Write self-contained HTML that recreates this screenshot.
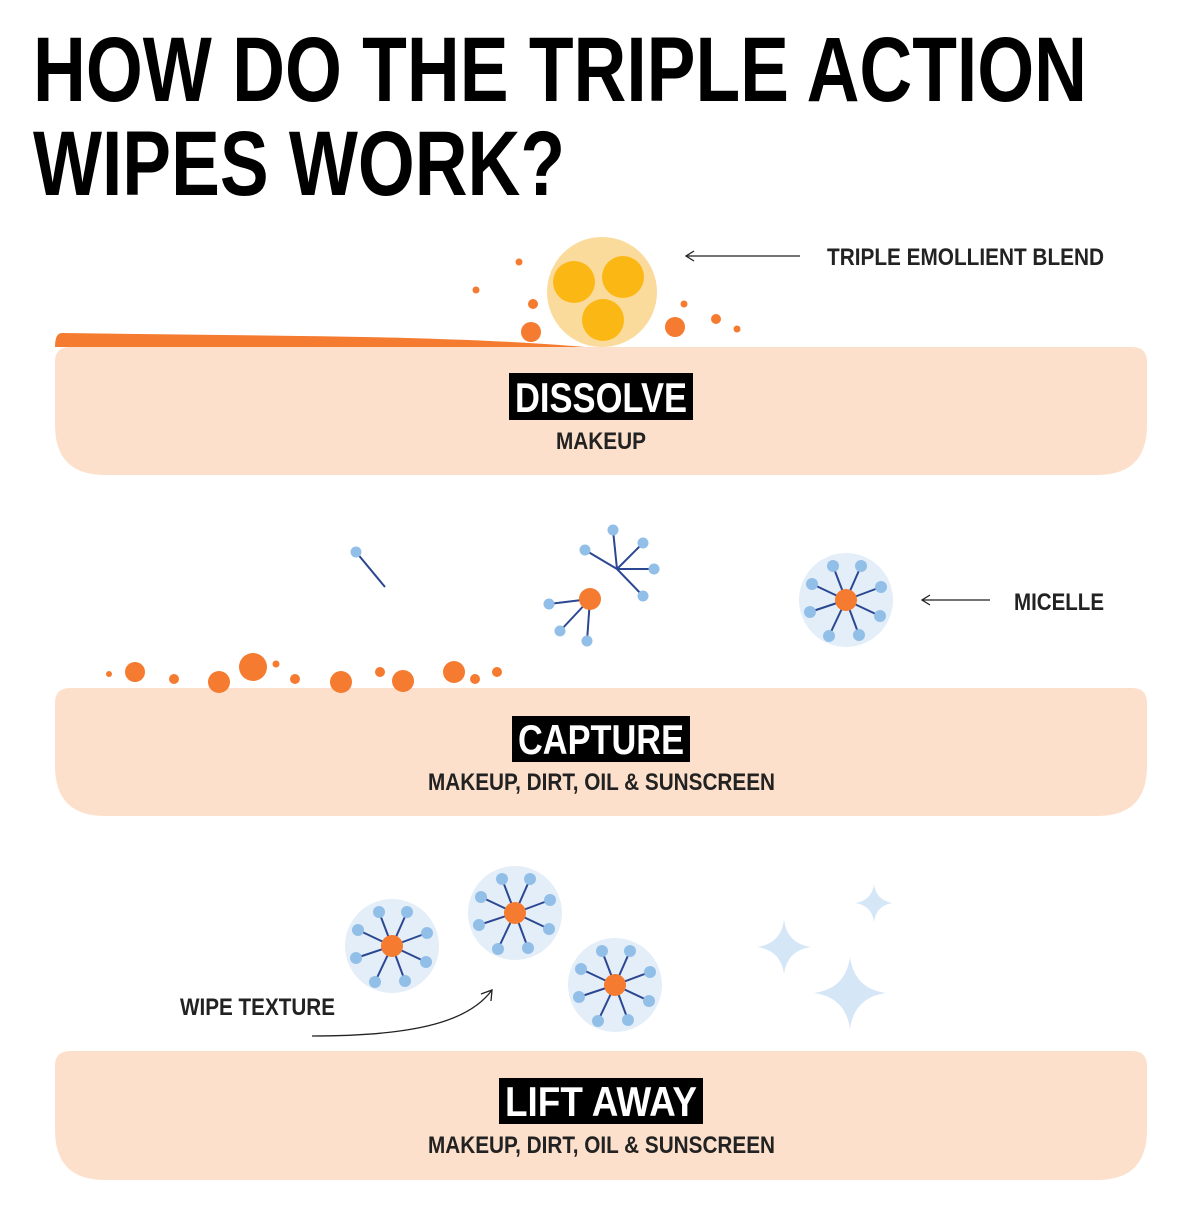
<!DOCTYPE html>
<html><head><meta charset="utf-8"><style>
html,body{margin:0;padding:0;background:#fff;}
svg{display:block;}
text{font-family:"Liberation Sans",sans-serif;font-weight:bold;}
</style></head><body>
<svg width="1179" height="1212" viewBox="0 0 1179 1212" xmlns="http://www.w3.org/2000/svg">
<defs>
<g id="mic">
<circle r="47" fill="#e4eef8"/>
<g stroke="#2b4792" stroke-width="2">
<line x1="0" y1="0" x2="-13" y2="-34"/><line x1="0" y1="0" x2="15" y2="-34"/>
<line x1="0" y1="0" x2="-34" y2="-16"/><line x1="0" y1="0" x2="35" y2="-13"/>
<line x1="0" y1="0" x2="-36" y2="12"/><line x1="0" y1="0" x2="34" y2="16"/>
<line x1="0" y1="0" x2="-17" y2="36"/><line x1="0" y1="0" x2="13" y2="35"/>
</g>
<g fill="#92bfe8">
<circle cx="-13" cy="-34" r="6"/><circle cx="15" cy="-34" r="6"/>
<circle cx="-34" cy="-16" r="6"/><circle cx="35" cy="-13" r="6"/>
<circle cx="-36" cy="12" r="6"/><circle cx="34" cy="16" r="6"/>
<circle cx="-17" cy="36" r="6"/><circle cx="13" cy="35" r="6"/>
</g>
<circle r="11" fill="#f47b30"/>
</g>
<path id="spark" d="M0,-1 Q0.12,-0.12 1,0 Q0.12,0.12 0,1 Q-0.12,0.12 -1,0 Q-0.12,-0.12 0,-1Z" fill="#d5e6f7"/>
</defs>

<text x="33" y="101" font-size="92" textLength="1054" lengthAdjust="spacingAndGlyphs">HOW DO THE TRIPLE ACTION</text>
<text x="33" y="195" font-size="92" textLength="532" lengthAdjust="spacingAndGlyphs">WIPES WORK?</text>

<!-- bands -->
<path d="M70,347 H1132 Q1147,347 1147,362 V425 Q1147,475 1097,475 H105 Q55,475 55,425 V362 Q55,347 70,347Z" fill="#fde0cc"/>
<path d="M70,688 H1132 Q1147,688 1147,703 V766 Q1147,816 1097,816 H105 Q55,816 55,766 V703 Q55,688 70,688Z" fill="#fde0cc"/>
<path d="M70,1051 H1132 Q1147,1051 1147,1066 V1130 Q1147,1180 1097,1180 H105 Q55,1180 55,1130 V1066 Q55,1051 70,1051Z" fill="#fde0cc"/>

<!-- orange layer -->
<path d="M62,333 L300,336 Q480,338 585,347 L55,347 Q55,333 62,333Z" fill="#f47b30"/>

<!-- emollient -->
<circle cx="602" cy="292" r="55" fill="#fbdb9c"/>
<circle cx="574" cy="282" r="21" fill="#fbb714"/>
<circle cx="623" cy="277" r="21" fill="#fbb714"/>
<circle cx="603" cy="320" r="21" fill="#fbb714"/>
<g fill="#f47b30">
<circle cx="519" cy="262" r="3.5"/><circle cx="476" cy="290" r="3.5"/><circle cx="533" cy="304" r="5"/>
<circle cx="531" cy="332" r="10"/><circle cx="675" cy="327" r="10"/><circle cx="684" cy="304" r="3.5"/>
<circle cx="716" cy="319" r="5"/><circle cx="737" cy="329" r="3.5"/>
</g>
<g stroke="#222" stroke-width="1.3" fill="none">
<line x1="686" y1="256" x2="800" y2="256"/><polyline points="694,251 686,256 694,261"/>
<line x1="922" y1="600" x2="990" y2="600"/><polyline points="930,595 922,600 930,605"/>
<path d="M312,1036 C420,1036 470,1020 492,990"/><polyline points="481,994 492,990 491,1001"/>
</g>
<text x="827" y="265" font-size="24" textLength="277" lengthAdjust="spacingAndGlyphs" fill="#222">TRIPLE EMOLLIENT BLEND</text>
<text x="1014" y="610" font-size="24" textLength="90" lengthAdjust="spacingAndGlyphs" fill="#222">MICELLE</text>
<text x="180" y="1015" font-size="24" textLength="155" lengthAdjust="spacingAndGlyphs" fill="#222">WIPE TEXTURE</text>

<!-- labels -->
<rect x="509" y="373" width="184" height="47" fill="#000"/>
<text x="515" y="412" font-size="42" textLength="172" lengthAdjust="spacingAndGlyphs" fill="#fff">DISSOLVE</text>
<text x="601" y="449" font-size="24" text-anchor="middle" textLength="90" lengthAdjust="spacingAndGlyphs" fill="#222">MAKEUP</text>
<rect x="512" y="716" width="178" height="46" fill="#000"/>
<text x="518" y="754" font-size="42" textLength="166" lengthAdjust="spacingAndGlyphs" fill="#fff">CAPTURE</text>
<text x="428" y="790" font-size="24" textLength="347" lengthAdjust="spacingAndGlyphs" fill="#222">MAKEUP, DIRT, OIL &amp; SUNSCREEN</text>
<rect x="499" y="1078" width="204" height="46" fill="#000"/>
<text x="505" y="1116" font-size="42" textLength="192" lengthAdjust="spacingAndGlyphs" fill="#fff">LIFT AWAY</text>
<text x="428" y="1153" font-size="24" textLength="347" lengthAdjust="spacingAndGlyphs" fill="#222">MAKEUP, DIRT, OIL &amp; SUNSCREEN</text>

<!-- capture particles -->
<g fill="#f47b30">
<circle cx="109" cy="674" r="3"/><circle cx="135" cy="672" r="10"/><circle cx="174" cy="679" r="5"/>
<circle cx="219" cy="682" r="11"/><circle cx="253" cy="667" r="14"/><circle cx="276" cy="664" r="3.5"/>
<circle cx="295" cy="679" r="5"/><circle cx="341" cy="682" r="11"/><circle cx="380" cy="672" r="5"/>
<circle cx="403" cy="681" r="11"/><circle cx="454" cy="672" r="11"/><circle cx="475" cy="679" r="5"/>
<circle cx="497" cy="672" r="5"/>
</g>
<g stroke="#2b4792" stroke-width="2">
<line x1="356" y1="552" x2="385" y2="587"/>
<line x1="617" y1="569" x2="613" y2="530"/><line x1="617" y1="569" x2="585" y2="550"/>
<line x1="617" y1="569" x2="643" y2="543"/><line x1="617" y1="569" x2="654" y2="569"/>
<line x1="617" y1="569" x2="643" y2="596"/>
<line x1="590" y1="599" x2="549" y2="604"/><line x1="590" y1="599" x2="560" y2="631"/>
<line x1="590" y1="599" x2="587" y2="641"/>
</g>
<g fill="#92bfe8">
<circle cx="356" cy="552" r="5.5"/>
<circle cx="613" cy="530" r="5.5"/><circle cx="585" cy="550" r="5.5"/><circle cx="643" cy="543" r="5.5"/>
<circle cx="654" cy="569" r="5.5"/><circle cx="643" cy="596" r="5.5"/>
<circle cx="549" cy="604" r="5.5"/><circle cx="560" cy="631" r="5.5"/><circle cx="587" cy="641" r="5.5"/>
</g>
<circle cx="590" cy="599" r="11" fill="#f47b30"/>
<use href="#mic" x="846" y="600"/>

<!-- lift away -->
<use href="#mic" x="392" y="946"/>
<use href="#mic" x="515" y="913"/>
<use href="#mic" x="615" y="985"/>
<use href="#spark" transform="translate(874,903) scale(19)"/>
<use href="#spark" transform="translate(784,947) scale(27)"/>
<use href="#spark" transform="translate(850,993) scale(36)"/>
</svg>
</body></html>
